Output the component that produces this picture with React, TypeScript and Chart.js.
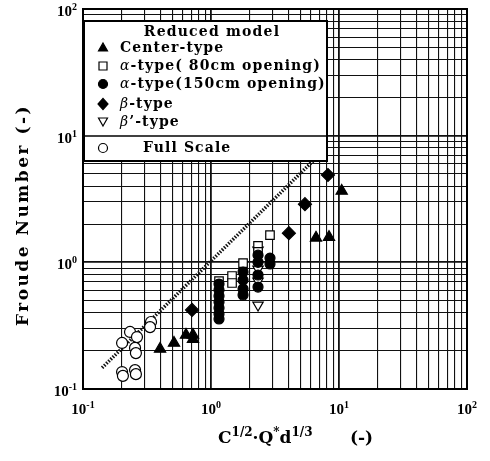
import React, { useEffect, useRef } from 'react';
import { Chart, registerables } from 'chart.js';

Chart.register(...registerables);

// ---- data ----
const tickExponents = [-1, 0, 1, 2];

const centerX = [0.4, 0.514, 0.638, 0.723, 0.723, 6.61, 8.35, 10.5];
const centerY = [0.207, 0.231, 0.267, 0.267, 0.248, 1.56, 1.58, 3.66];

const alpha80X = [1.155, 1.46, 1.46, 1.78, 2.33, 2.33, 2.89];
const alpha80Y = [0.711, 0.78, 0.687, 0.986, 1.35, 1.21, 1.64];

const alpha150X = [1.155, 1.155, 1.155, 1.155, 1.155, 1.155, 1.155, 1.78, 1.78, 1.78, 1.78, 2.33, 2.33, 2.33, 2.33, 2.89, 2.89];
const alpha150Y = [0.674, 0.604, 0.542, 0.486, 0.436, 0.391, 0.357, 0.838, 0.724, 0.615, 0.552, 1.14, 1.0, 0.794, 0.638, 1.08, 0.97];

const betaX = [0.711, 4.06, 5.42, 8.2];
const betaY = [0.421, 1.7, 2.88, 4.89];

const betaPrimeX = [2.33, 2.33, 2.33, 2.33];
const betaPrimeY = [1.25, 0.885, 0.711, 0.46];

const fullX = [0.202, 0.205, 0.255, 0.259, 0.202, 0.233, 0.264, 0.255, 0.259, 0.34, 0.334];
const fullY = [0.136, 0.127, 0.141, 0.131, 0.231, 0.282, 0.257, 0.211, 0.192, 0.338, 0.308];

const trendX = [0.141, 6.73];
const trendY = [0.147, 6.78];

const legendHeader = 'Reduced model';
const legendFull = 'Full Scale';
const yTitle = 'Froude Number (-)';

const zip = (xs: number[], ys: number[]) => xs.map((x, i) => ({ x, y: ys[i] }));

const gridValues: number[] = [];
for (let e = -1; e <= 1; e++) for (let m = 1; m <= 9; m++) gridValues.push(+(m * Math.pow(10, e)).toPrecision(3));
gridValues.push(100);
const isMajor = (v: number) => Math.abs(Math.log10(v) - Math.round(Math.log10(v))) < 1e-6;

const SERIF = '"DejaVu Serif"';

function drawPow(ctx: CanvasRenderingContext2D, x: number, baseline: number, exp: number, align: 'center' | 'right') {
  ctx.font = 'bold 15px "Liberation Serif"';
  const bw = ctx.measureText('10').width;
  const es = exp < 0 ? '-' + Math.abs(exp) : String(exp);
  ctx.font = 'bold 10px "Liberation Serif"';
  const ew = ctx.measureText(es).width;
  const total = bw + ew;
  const left = align === 'center' ? x - total / 2 : x - total;
  ctx.textAlign = 'left';
  ctx.textBaseline = 'alphabetic';
  ctx.font = 'bold 15px "Liberation Serif"';
  ctx.fillText('10', left, baseline);
  ctx.font = 'bold 10px "Liberation Serif"';
  ctx.fillText(es, left + bw, baseline - 6);
}

function marker(ctx: CanvasRenderingContext2D, kind: string, x: number, y: number, filled: boolean) {
  ctx.beginPath();
  if (kind === 'tri') {
    ctx.moveTo(x, y - 5); ctx.lineTo(x + 4.5, y + 3); ctx.lineTo(x - 4.5, y + 3); ctx.closePath();
  } else if (kind === 'itri') {
    ctx.moveTo(x, y + 4); ctx.lineTo(x + 4.5, y - 4); ctx.lineTo(x - 4.5, y - 4); ctx.closePath();
  } else if (kind === 'sq') {
    ctx.rect(x - 4, y - 4, 8, 8);
  } else if (kind === 'circ') {
    ctx.arc(x, y, 4.5, 0, Math.PI * 2);
  } else if (kind === 'dia') {
    ctx.moveTo(x, y - 5.5); ctx.lineTo(x + 5, y); ctx.lineTo(x, y + 5.5); ctx.lineTo(x - 5, y); ctx.closePath();
  }
  ctx.fillStyle = filled ? '#000' : '#fff';
  ctx.fill();
  ctx.lineWidth = 1.2;
  ctx.strokeStyle = '#000';
  ctx.stroke();
}

function greekText(ctx: CanvasRenderingContext2D, x: number, y: number, greek: string, rest: string) {
  (ctx as any).letterSpacing = '1.1px';
  ctx.font = 'italic 14px ' + SERIF;
  ctx.fillText(greek, x, y);
  const gw = ctx.measureText(greek).width;
  ctx.font = 'bold 14px ' + SERIF;
  ctx.fillText(rest, x + gw, y);
}

const decorPlugin = {
  id: 'decor',
  afterDraw(chart: any) {
    const ctx: CanvasRenderingContext2D = chart.ctx;
    const { left, right, top, bottom } = chart.chartArea;
    const xs = chart.scales.x;
    const ys = chart.scales.y;
    ctx.save();
    // frame
    ctx.strokeStyle = '#000';
    ctx.lineWidth = 2;
    ctx.strokeRect(left, top, right - left, bottom - top);

    ctx.fillStyle = '#000';
    // tick labels
    for (const e of tickExponents) {
      const v = Math.pow(10, e);
      drawPow(ctx, xs.getPixelForValue(v), 414, e, 'center');
      drawPow(ctx, 77, ys.getPixelForValue(v) + 7, e, 'right');
    }

    // y title
    ctx.save();
    ctx.translate(28, 215);
    ctx.rotate(-Math.PI / 2);
    (ctx as any).letterSpacing = '2.5px';
    ctx.font = 'bold 17px ' + SERIF;
    ctx.textAlign = 'center';
    ctx.textBaseline = 'alphabetic';
    ctx.fillText(yTitle, 0, 0);
    ctx.restore();

    // x title
    ctx.save();
    (ctx as any).letterSpacing = '0px';
    ctx.textAlign = 'left';
    ctx.textBaseline = 'alphabetic';
    let cx = 218;
    const by = 443;
    const big = 'bold 17px ' + SERIF;
    const small = 'bold 12px ' + SERIF;
    const seg = (t: string, f: string, dy: number) => {
      ctx.font = f;
      ctx.fillText(t, cx, by + dy);
      cx += ctx.measureText(t).width;
    };
    seg('C', big, 0);
    seg('1/2', small, -7);
    seg('\u00B7', big, 0);
    seg('Q', big, 0);
    seg('*', small, -7);
    seg('d', big, 0);
    seg('1/3', small, -7);
    cx = Math.max(cx + 20, 350);
    seg('(-)', big, 0);
    ctx.restore();

    // legend
    const lx = 84, ly = 21, lw = 243, lh = 140;
    ctx.fillStyle = '#fff';
    ctx.fillRect(lx, ly, lw, lh);
    ctx.strokeStyle = '#000';
    ctx.lineWidth = 2;
    ctx.strokeRect(lx, ly, lw, lh);
    ctx.lineWidth = 1.5;
    ctx.beginPath();
    ctx.moveTo(lx, 136);
    ctx.lineTo(lx + lw, 136);
    ctx.stroke();

    ctx.fillStyle = '#000';
    ctx.textBaseline = 'middle';
    ctx.textAlign = 'center';
    (ctx as any).letterSpacing = '1.2px';
    ctx.font = 'bold 14px ' + SERIF;
    ctx.fillText(legendHeader, 212, 32);
    ctx.textAlign = 'left';

    const mx = 103, tx = 120;
    const rows = [48, 66, 84, 104, 122];
    marker(ctx, 'tri', mx, rows[0], true);
    marker(ctx, 'sq', mx, rows[1], false);
    marker(ctx, 'circ', mx, rows[2], true);
    marker(ctx, 'dia', mx, rows[3], true);
    marker(ctx, 'itri', mx, rows[4], false);
    marker(ctx, 'circ', mx, 148, false);
    ctx.fillStyle = '#000';
    (ctx as any).letterSpacing = '1.1px';
    ctx.font = 'bold 14px ' + SERIF;
    ctx.fillText('Center-type', tx, rows[0]);
    greekText(ctx, tx, rows[1], '\u03B1', '-type( 80cm opening)');
    greekText(ctx, tx, rows[2], '\u03B1', '-type(150cm opening)');
    greekText(ctx, tx, rows[3], '\u03B2', '-type');
    greekText(ctx, tx, rows[4], '\u03B2', '\u2019-type');
    (ctx as any).letterSpacing = '1.1px';
    ctx.font = 'bold 14px ' + SERIF;
    ctx.fillText(legendFull, 143, 148);
    ctx.restore();
  },
};

export default function App() {
  const ref = useRef<HTMLCanvasElement>(null);
  useEffect(() => {
    document.body.style.margin = '0';
    const canvas = ref.current!;
    const common = { showLine: false, borderColor: '#000', borderWidth: 1.2 };
    const chart = new Chart(canvas, {
      type: 'scatter',
      data: {
        datasets: [
          { ...common, label: 'trend', data: zip(trendX, trendY), showLine: true, pointRadius: 0, borderWidth: 3.5, borderDash: [1.5, 1.5], borderColor: '#111', order: 10 } as any,
          { ...common, label: 'Full Scale', data: zip(fullX, fullY), pointStyle: 'circle', pointRadius: 5.5, backgroundColor: '#fff' },
          { ...common, label: 'Center-type', data: zip(centerX, centerY), pointStyle: 'triangle', pointRadius: 6.5, backgroundColor: '#000' },
          { ...common, label: 'alpha150', data: zip(alpha150X, alpha150Y), pointStyle: 'circle', pointRadius: 5, backgroundColor: '#000' },
          { ...common, label: 'alpha80', data: zip(alpha80X, alpha80Y), pointStyle: 'rect', pointRadius: 6, backgroundColor: '#fff' },
          { ...common, label: 'beta', data: zip(betaX, betaY), pointStyle: 'rectRot', pointRadius: 6.5, backgroundColor: '#000' },
          { ...common, label: 'betaPrime', data: zip(betaPrimeX, betaPrimeY), pointStyle: 'triangle', pointRotation: 180, pointRadius: 6, backgroundColor: '#fff' } as any,
        ],
      },
      options: {
        responsive: false,
        animation: false,
        layout: { padding: { top: 9, right: 23, left: 0, bottom: 0 } },
        plugins: { legend: { display: false }, tooltip: { enabled: false } },
        scales: {
          x: {
            type: 'logarithmic',
            min: 0.1,
            max: 100,
            afterBuildTicks: (s: any) => { s.ticks = gridValues.map((v) => ({ value: v })); },
            afterFit: (s: any) => { s.height = 72; },
            ticks: { display: false, autoSkip: false },
            grid: {
              drawTicks: false,
              color: '#111',
              lineWidth: (c: any) => (c.tick && isMajor(c.tick.value) ? 1.8 : 1.1),
            },
            border: { display: false },
          },
          y: {
            type: 'logarithmic',
            min: 0.1,
            max: 100,
            afterBuildTicks: (s: any) => { s.ticks = gridValues.map((v) => ({ value: v })); },
            afterFit: (s: any) => { s.width = 83; },
            ticks: { display: false, autoSkip: false },
            grid: {
              drawTicks: false,
              color: '#111',
              lineWidth: (c: any) => (c.tick && isMajor(c.tick.value) ? 1.8 : 1.1),
            },
            border: { display: false },
          },
        },
      } as any,
      plugins: [decorPlugin],
    });
    return () => chart.destroy();
  }, []);
  return <canvas ref={ref} width={490} height={461} style={{ display: 'block' }} />;
}
